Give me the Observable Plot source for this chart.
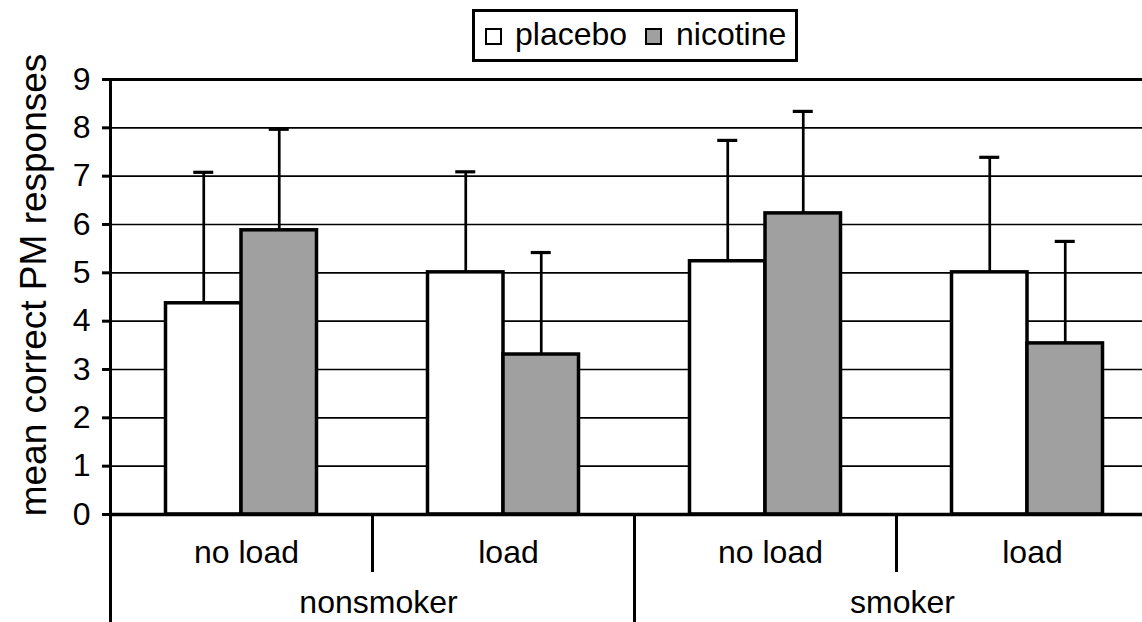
<!DOCTYPE html>
<html>
<head>
<meta charset="utf-8">
<script src="https://cdn.jsdelivr.net/npm/d3@7"></script>
<script src="https://cdn.jsdelivr.net/npm/@observablehq/plot@0.6"></script>
<style>
  html, body { margin: 0; padding: 0; background: white; overflow: hidden; }
  body { width: 1142px; height: 622px; font-family: "Liberation Sans", Arial, sans-serif; }
  #legend { position: relative; width: 1142px; height: 70px; }
  #legend .box { position: absolute; left: 472px; top: 9px; width: 320px; height: 47px; border: 3px solid #000; }
  #legend .sw { position: absolute; top: 28px; width: 13px; height: 13px; border: 2px solid #000; }
  #legend .lab { position: absolute; top: 14px; font-size: 32px; line-height: 40px; color: #000; }
  #chart svg { display: block; overflow: visible !important; }
  #chart g[aria-label="y-axis tick"] { stroke-width: 3px; }
  #chart g[aria-label="y-axis"] .tick line { stroke-width: 3px; }
</style>
</head>
<body>
<div id="legend"></div>
<div id="chart"></div>
<script>
// ---- data ----
const smokerGroups = ["nonsmoker", "smoker"];
const loadConditions = ["no load", "load"];
const treatments = ["placebo", "nicotine"];
const placeboMeans = [4.37, 5.01, 5.24, 5.01];
const placeboErr   = [2.71, 2.08, 2.50, 2.38];
const nicotineMeans = [5.88, 3.31, 6.23, 3.54];
const nicotineErr   = [2.09, 2.11, 2.11, 2.11];
const yTicks = [0, 1, 2, 3, 4, 5, 6, 7, 8, 9];
const yLabel = "mean correct PM responses";

const treatmentFill = {placebo: "#ffffff", nicotine: "#a0a0a0"};

// build rows
const rows = [];
smokerGroups.forEach((g, gi) => {
  loadConditions.forEach((l, li) => {
    const i = gi * loadConditions.length + li;
    rows.push({
      key: g + " | " + l, group: g, load: l,
      placebo: placeboMeans[i], placeboTop: placeboMeans[i] + placeboErr[i],
      nicotine: nicotineMeans[i], nicotineTop: nicotineMeans[i] + nicotineErr[i]
    });
  });
});
const keys = rows.map(d => d.key);
const groupFirst = smokerGroups.map(g => rows.find(d => d.group === g));

// ---- legend (HTML, above the SVG) ----
const legend = document.getElementById("legend");
legend.innerHTML = `<div class="box"></div>`;
const legendX = {placebo: [485, 515], nicotine: [645, 676]};
treatments.forEach(t => {
  const sw = document.createElement("div");
  sw.className = "sw";
  sw.style.left = legendX[t][0] + "px";
  sw.style.background = treatmentFill[t];
  legend.appendChild(sw);
  const lab = document.createElement("div");
  lab.className = "lab";
  lab.style.left = legendX[t][1] + "px";
  lab.textContent = t;
  legend.appendChild(lab);
});

// ---- chart ----
const halfBand = 131;   // half of a band (px)
const barOff = 37.75;   // bar centre offset from band centre

const chart = Plot.plot({
  width: 1142,
  height: 552,
  marginTop: 9,
  marginBottom: 108,
  marginLeft: 110,
  marginRight: 0,
  style: {fontFamily: "'Liberation Sans', Arial, sans-serif", fontSize: "32px", color: "#000", background: "white", overflow: "visible"},
  x: {type: "band", domain: keys, range: [110, 1158], padding: 0, axis: null},
  y: {domain: [0, 9], ticks: yTicks, tickSize: 8, tickPadding: 12, label: null, tickFormat: d => String(d)},
  marks: [
    // horizontal grid lines
    Plot.ruleY(yTicks.filter(v => v > 0 && v < 9), {stroke: "#000", strokeWidth: 1.7}),
    // bars
    Plot.barY(rows, {x: "key", y: "placebo", fill: treatmentFill.placebo, stroke: "#000", strokeWidth: 3.5, insetLeft: 55.5, insetRight: 131}),
    Plot.barY(rows, {x: "key", y: "nicotine", fill: treatmentFill.nicotine, stroke: "#000", strokeWidth: 3.5, insetLeft: 131, insetRight: 55.5}),
    // error bars
    Plot.ruleX(rows, {x: "key", y1: "placebo", y2: "placeboTop", dx: -barOff, stroke: "#000", strokeWidth: 2.7}),
    Plot.ruleX(rows, {x: "key", y1: "nicotine", y2: "nicotineTop", dx: barOff, stroke: "#000", strokeWidth: 2.7}),
    Plot.tickY(rows, {x: "key", y: "placeboTop", stroke: "#000", strokeWidth: 3.2, insetLeft: 83.25, insetRight: 158.75}),
    Plot.tickY(rows, {x: "key", y: "nicotineTop", stroke: "#000", strokeWidth: 3.2, insetLeft: 158.75, insetRight: 83.25}),
    // top border and baseline
    Plot.ruleY([9], {stroke: "#000", strokeWidth: 3.2}),
    Plot.ruleY([0], {stroke: "#000", strokeWidth: 3.5}),
    // left axis + long group divider (down to bottom)
    Plot.ruleX([rows[0]], {x: "key", dx: -halfBand, y1: 9, y2: () => -2.3, stroke: "#000", strokeWidth: 3}),
    Plot.ruleX(groupFirst.slice(1), {x: "key", dx: -halfBand, y1: 0, y2: () => -2.3, stroke: "#000", strokeWidth: 3}),
    // short dividers between load conditions
    Plot.ruleX(rows.filter(d => d.load !== loadConditions[0]), {x: "key", dx: -halfBand, y1: 0, y2: () => -1.2, stroke: "#000", strokeWidth: 3}),
    // category labels
    Plot.text(rows, {x: "key", text: "load", frameAnchor: "bottom", lineAnchor: "bottom", dy: 48, dx: 5, fontSize: 32, fill: "#000"}),
    Plot.text(groupFirst, {x: "key", text: "group", frameAnchor: "bottom", lineAnchor: "bottom", dy: 98, dx: halfBand + 6, fontSize: 32, fill: "#000"}),
    // y axis title
    Plot.text([yLabel], {text: d => d, frameAnchor: "left", textAnchor: "middle", rotate: -90, lineAnchor: "bottom", dx: -65, dy: -12, fontSize: 37, fill: "#000"})
  ]
});
document.getElementById("chart").appendChild(chart);
</script>
</body>
</html>
